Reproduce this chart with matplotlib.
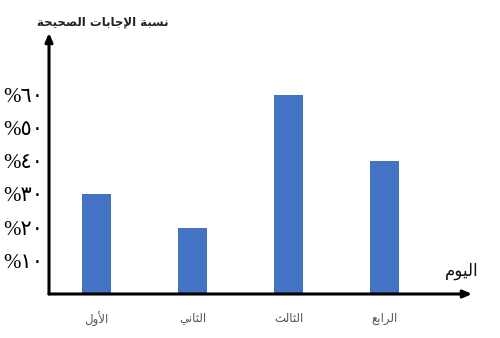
import matplotlib
matplotlib.use("Agg")
import matplotlib.pyplot as plt

# ---- data ----
categories = ['الأول', 'الثاني', 'الثالث', 'الرابع']
values = [30, 20, 60, 40]
yticks = [10, 20, 30, 40, 50, 60]
ytick_labels = ['%١٠', '%٢٠', '%٣٠', '%٤٠', '%٥٠', '%٦٠']
y_title = 'نسبة الإجابات الصحيحة'
x_title = 'اليوم'

# ---- minimal Arabic shaping (presentation forms, visual order) ----
FORMS = {  # isolated, final, initial, medial
    'ا': ('\uFE8D', '\uFE8E', None, None),
    'أ': ('\uFE83', '\uFE84', None, None),
    'إ': ('\uFE87', '\uFE88', None, None),
    'ب': ('\uFE8F', '\uFE90', '\uFE91', '\uFE92'),
    'ة': ('\uFE93', '\uFE94', None, None),
    'ت': ('\uFE95', '\uFE96', '\uFE97', '\uFE98'),
    'ث': ('\uFE99', '\uFE9A', '\uFE9B', '\uFE9C'),
    'ج': ('\uFE9D', '\uFE9E', '\uFE9F', '\uFEA0'),
    'ح': ('\uFEA1', '\uFEA2', '\uFEA3', '\uFEA4'),
    'ر': ('\uFEAD', '\uFEAE', None, None),
    'س': ('\uFEB1', '\uFEB2', '\uFEB3', '\uFEB4'),
    'ص': ('\uFEB9', '\uFEBA', '\uFEBB', '\uFEBC'),
    'ع': ('\uFEC9', '\uFECA', '\uFECB', '\uFECC'),
    'ل': ('\uFEDD', '\uFEDE', '\uFEDF', '\uFEE0'),
    'م': ('\uFEE1', '\uFEE2', '\uFEE3', '\uFEE4'),
    'ن': ('\uFEE5', '\uFEE6', '\uFEE7', '\uFEE8'),
    'و': ('\uFEED', '\uFEEE', None, None),
    'ي': ('\uFEF1', '\uFEF2', '\uFEF3', '\uFEF4'),
}
LAMALEF = {'ا': ('\uFEFB', '\uFEFC'), 'أ': ('\uFEF7', '\uFEF8'),
           'إ': ('\uFEF9', '\uFEFA')}


def shape_word(w):
    units = []
    i = 0
    while i < len(w):
        c = w[i]
        if c == 'ل' and i + 1 < len(w) and w[i + 1] in LAMALEF:
            units.append(('LA', w[i + 1]))
            i += 2
        else:
            units.append((c, None))
            i += 1

    def joins_left(u):
        if u[0] == 'LA':
            return False
        f = FORMS.get(u[0])
        return f is not None and f[2] is not None

    def is_ar(u):
        return u[0] == 'LA' or u[0] in FORMS

    out = []
    for k, u in enumerate(units):
        prev_j = k > 0 and joins_left(units[k - 1])
        nxt = k + 1 < len(units) and is_ar(units[k + 1])
        if u[0] == 'LA':
            iso, fin = LAMALEF[u[1]]
            out.append(fin if prev_j else iso)
            continue
        f = FORMS.get(u[0])
        if f is None:
            out.append(u[0])
            continue
        can_next = nxt and f[2] is not None
        if prev_j and can_next:
            out.append(f[3])
        elif prev_j:
            out.append(f[1])
        elif can_next:
            out.append(f[2])
        else:
            out.append(f[0])
    return ''.join(reversed(out))


def ar(text):
    return ' '.join(shape_word(w) for w in reversed(text.split(' ')))


plt.rcParams['font.family'] = ['DejaVu Sans']

W, H = 500, 338
fig = plt.figure(figsize=(W / 100, H / 100), dpi=100)
left, right, bottom, top = 49, 472, 294, 33
ax = fig.add_axes([left / W, (H - bottom) / H, (right - left) / W, (bottom - top) / H])

x = list(range(len(categories)))
ax.bar(x, values, width=0.31, color='#4472C4', zorder=2)

ax.set_xlim(-0.495, 3.91)
ax.set_ylim(0, 78.5)
for s in ax.spines.values():
    s.set_visible(False)

ax.set_yticks(yticks)
ax.set_yticklabels(ytick_labels, fontsize=15,
                   fontfamily=['Liberation Serif', 'DejaVu Sans'])
ax.tick_params(axis='y', length=0, pad=4)
ax.set_xticks(x)
ax.set_xticklabels([ar(c) for c in categories], fontsize=8.5, color='#555555')
ax.tick_params(axis='x', length=0, pad=13)

# axes with arrowheads
for tip in [(1, 0), (0, 1)]:
    ax.annotate('', xy=tip, xytext=(0, 0), xycoords='axes fraction',
                arrowprops=dict(arrowstyle='-|>,head_length=0.5,head_width=0.22',
                                lw=2.2, color='black', shrinkA=0, shrinkB=0),
                annotation_clip=False)

fig.text(103 / W, 1 - 22 / H, ar(y_title), fontsize=8.5, fontweight='bold',
         ha='center', va='center', color='#222222')
fig.text(462 / W, 1 - 271 / H, ar(x_title), fontsize=12,
         ha='center', va='center', color='#111111')

fig.savefig('out.png', dpi=100)
